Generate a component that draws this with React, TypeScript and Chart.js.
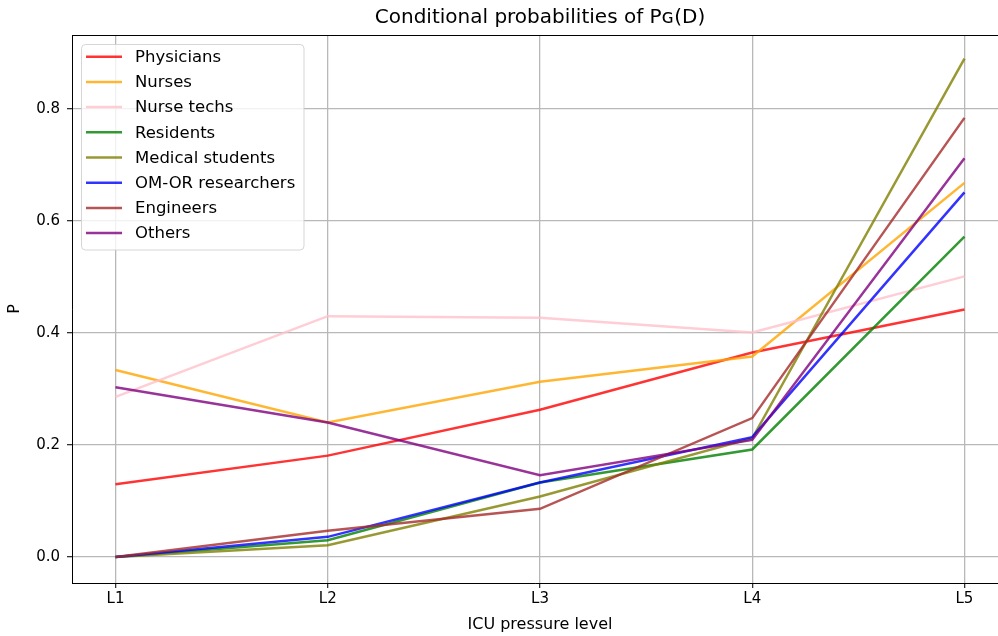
import React, { useEffect, useRef } from "react";
import { Chart, registerables } from "chart.js";

Chart.register(...registerables);

const levels = ["L1", "L2", "L3", "L4", "L5"];
const seriesNames = [
  "Physicians",
  "Nurses",
  "Nurse techs",
  "Residents",
  "Medical students",
  "OM-OR researchers",
  "Engineers",
  "Others",
];
const physicians = [0.130, 0.181, 0.263, 0.365, 0.442];
const nurses = [0.334, 0.240, 0.313, 0.358, 0.668];
const nurseTechs = [0.286, 0.430, 0.427, 0.401, 0.501];
const residents = [0.0, 0.030, 0.133, 0.192, 0.572];
const medicalStudents = [0.0, 0.021, 0.108, 0.212, 0.890];
const omorResearchers = [0.0, 0.036, 0.133, 0.214, 0.651];
const engineers = [0.0, 0.047, 0.086, 0.248, 0.784];
const others = [0.303, 0.240, 0.146, 0.209, 0.712];
const seriesValues = [
  physicians,
  nurses,
  nurseTechs,
  residents,
  medicalStudents,
  omorResearchers,
  engineers,
  others,
];
const seriesColors = [
  "rgba(255,0,0,0.8)",
  "rgba(255,165,0,0.8)",
  "rgba(255,192,203,0.8)",
  "rgba(0,128,0,0.8)",
  "rgba(128,128,0,0.8)",
  "rgba(0,0,255,0.8)",
  "rgba(165,42,42,0.8)",
  "rgba(128,0,128,0.8)",
];
const yTickStep = 0.2;
const titleText = "Conditional probabilities of P\u0262(D)";
const xTitleText = "ICU pressure level";
// full matplotlib axes span (part of it lies beyond the window)
const xAxisMin = -0.2;
const xAxisMax = 4.2;

const FONT = "'DejaVu Sans', sans-serif";

const frameAndLegend = {
  id: "frameAndLegend",
  afterDraw(chart: any) {
    const ctx = chart.ctx;
    const a = chart.chartArea;
    const xs = chart.scales.x;
    const cx = xs.getPixelForValue((xAxisMin + xAxisMax) / 2);
    ctx.save();
    // top spine
    ctx.strokeStyle = "#000";
    ctx.lineWidth = 1;
    ctx.beginPath();
    ctx.moveTo(a.left, a.top + 0.5);
    ctx.lineTo(a.right, a.top + 0.5);
    ctx.stroke();

    // titles
    ctx.fillStyle = "#000";
    ctx.textAlign = "center";
    ctx.textBaseline = "middle";
    ctx.font = `20px ${FONT}`;
    ctx.fillText(titleText, cx, 18);
    ctx.font = `16px ${FONT}`;
    ctx.fillText(xTitleText, cx, 625);

    // legend box
    const bx = 81.5, by = 44.5, bw = 222.5, bh = 205.5, r = 4;
    ctx.beginPath();
    ctx.moveTo(bx + r, by);
    ctx.lineTo(bx + bw - r, by);
    ctx.arcTo(bx + bw, by, bx + bw, by + r, r);
    ctx.lineTo(bx + bw, by + bh - r);
    ctx.arcTo(bx + bw, by + bh, bx + bw - r, by + bh, r);
    ctx.lineTo(bx + r, by + bh);
    ctx.arcTo(bx, by + bh, bx, by + bh - r, r);
    ctx.lineTo(bx, by + r);
    ctx.arcTo(bx, by, bx + r, by, r);
    ctx.closePath();
    ctx.fillStyle = "rgba(255,255,255,0.8)";
    ctx.fill();
    ctx.strokeStyle = "rgba(204,204,204,0.8)";
    ctx.lineWidth = 1;
    ctx.stroke();

    ctx.font = `16.5px ${FONT}`;
    ctx.textBaseline = "middle";
    ctx.textAlign = "left";
    chart.data.datasets.forEach((ds: any, i: number) => {
      const y = 56.7 + i * 25.2;
      ctx.strokeStyle = ds.borderColor;
      ctx.lineWidth = 2.5;
      ctx.beginPath();
      ctx.moveTo(86, y);
      ctx.lineTo(122, y);
      ctx.stroke();
      ctx.fillStyle = "#000";
      ctx.fillText(ds.label, 135, y + 1);
    });
    ctx.restore();
  },
};

export default function App() {
  const ref = useRef<HTMLCanvasElement | null>(null);

  useEffect(() => {
    document.body.style.margin = "0";
    const n = seriesNames.length;
    const chart = new Chart(ref.current as HTMLCanvasElement, {
      type: "line",
      data: {
        datasets: seriesNames.map((name, i) => ({
          label: name,
          data: seriesValues[i].map((v, j) => ({ x: j, y: v })),
          borderColor: seriesColors[i],
          backgroundColor: seriesColors[i],
          borderWidth: 2.5,
          pointRadius: 0,
          tension: 0,
          fill: false,
          order: n - 1 - i,
        })),
      },
      options: {
        animation: false,
        responsive: false,
        maintainAspectRatio: false,
        layout: { padding: { top: 35, left: 0, right: 0, bottom: 0 } },
        plugins: {
          legend: { display: false },
          tooltip: { enabled: false },
          title: { display: false },
        },
        scales: {
          x: {
            type: "linear",
            min: -0.205,
            max: 4.158,
            afterFit: (s: any) => {
              s.height = 53;
            },
            ticks: {
              stepSize: 1,
              includeBounds: false,
              autoSkip: false,
              maxRotation: 0,
              color: "#000",
              font: { family: FONT, size: 15 },
              padding: 2,
              callback: (v: any) =>
                Number.isInteger(v) && levels[v] !== undefined ? levels[v] : "",
            },
            grid: {
              color: "#b8b8b8",
              lineWidth: 1.3,
              tickLength: 5,
              tickColor: "#333",
            },
            border: { color: "#000", width: 1 },
            title: { display: false },
          },
          y: {
            type: "linear",
            min: -0.0464,
            max: 0.932,
            afterFit: (s: any) => {
              s.width = 72;
            },
            ticks: {
              stepSize: yTickStep,
              includeBounds: false,
              color: "#000",
              font: { family: FONT, size: 15 },
              padding: 7,
              callback: (v: any) => Number(v).toFixed(1),
            },
            grid: {
              color: "#b8b8b8",
              lineWidth: 1.3,
              tickLength: 5,
              tickColor: "#333",
            },
            border: { color: "#000", width: 1 },
            title: {
              display: true,
              text: "P",
              color: "#000",
              font: { family: FONT, size: 16 },
              padding: { top: 5, bottom: 0 },
            },
          },
        },
      },
      plugins: [frameAndLegend],
    } as any);
    return () => chart.destroy();
  }, []);

  return (
    <div style={{ width: 998, height: 636 }}>
      <canvas ref={ref} width={998} height={636} style={{ display: "block" }} />
    </div>
  );
}
